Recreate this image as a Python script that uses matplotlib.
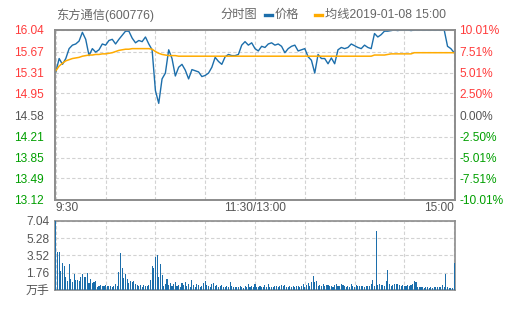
import numpy as np
import matplotlib
matplotlib.use('Agg')
import matplotlib.pyplot as plt
from matplotlib.lines import Line2D

plt.rcParams['font.family'] = ['Liberation Sans', 'Noto Sans CJK SC']

# stock + header
stock_name = '东方通信(600776)'
chart_kind = '分时图'
legend_price = '价格'
legend_avg = '均线2019-01-08 15:00'
prev_close = 14.58

# price every 2 minutes from 9:30 (0) to 15:00 (240)
price = [
    15.32, 15.55, 15.45, 15.55, 15.72, 15.78, 15.80, 15.85, 16.00, 15.88,
    15.60, 15.72, 15.66, 15.70, 15.80, 15.78, 15.86, 15.88, 15.80, 15.88,
    15.95, 16.02, 16.02, 15.90, 15.82, 15.86, 15.84, 15.92, 15.80, 15.70,
    15.00, 14.78, 15.20, 15.30, 15.70, 15.55, 15.25, 15.40, 15.45, 15.35,
    15.20, 15.36, 15.34, 15.32, 15.24, 15.26, 15.30, 15.40, 15.57, 15.50,
    15.45, 15.58, 15.62, 15.60, 15.60, 15.62, 15.78, 15.84, 15.78, 15.82,
    15.72, 15.68, 15.76, 15.74, 15.80, 15.82, 15.78, 15.80, 15.76, 15.65,
    15.72, 15.76, 15.78, 15.68, 15.70, 15.72, 15.58, 15.52, 15.30, 15.62,
    15.55, 15.55, 15.46, 15.56, 15.46, 15.70, 15.74, 15.72, 15.74, 15.80,
    15.77, 15.74, 15.72, 15.78, 15.74, 15.72, 15.98, 15.92, 15.96, 16.02,
    16.02, 16.03, 16.04, 16.03, 16.04, 16.04, 16.04, 16.03, 16.04, 16.04,
    16.04, 16.04, 16.04, 16.04, 16.04, 16.04, 16.04, 16.04, 15.76, 15.72,
    15.65,
]

avg_price = [
    15.34, 15.42, 15.47, 15.51, 15.53, 15.55, 15.56, 15.57, 15.59, 15.60,
    15.61, 15.61, 15.62, 15.62, 15.63, 15.63, 15.64, 15.65, 15.67, 15.69,
    15.70, 15.71, 15.71, 15.72, 15.72, 15.72, 15.72, 15.72, 15.72, 15.71,
    15.67, 15.64, 15.62, 15.61, 15.60, 15.60, 15.60, 15.59, 15.59, 15.59,
    15.59, 15.59, 15.59, 15.59, 15.59, 15.59, 15.59, 15.59, 15.59, 15.59,
    15.59, 15.59, 15.59, 15.59, 15.59, 15.59, 15.59, 15.59, 15.59, 15.59,
    15.59, 15.59, 15.59, 15.59, 15.59, 15.59, 15.59, 15.59, 15.59, 15.59,
    15.59, 15.59, 15.59, 15.59, 15.59, 15.59, 15.59, 15.59, 15.59, 15.59,
    15.59, 15.59, 15.59, 15.59, 15.59, 15.59, 15.59, 15.59, 15.59, 15.59,
    15.59, 15.59, 15.59, 15.59, 15.59, 15.59, 15.61, 15.61, 15.61, 15.61,
    15.62, 15.63, 15.63, 15.63, 15.63, 15.63, 15.63, 15.63, 15.65, 15.65,
    15.65, 15.65, 15.65, 15.65, 15.65, 15.65, 15.65, 15.65, 15.65, 15.65,
    15.65,
]

# volume per minute, 万手
volume = [
    7.04, 3.9, 3.9, 1.9, 2.7, 2.4, 1.3, 0.95, 2.6, 1.1,
    0.8, 1.65, 1.0, 1.0, 0.9, 1.3, 1.6, 1.3, 1.3, 1.7,
    0.7, 1.1, 0.7, 0.8, 0.9, 0.35, 0.45, 0.5, 0.4, 0.45,
    0.5, 0.4, 0.45, 0.4, 0.35, 0.45, 0.6, 0.4, 1.8, 3.8,
    2.2, 1.2, 1.6, 1.1, 0.7, 0.9, 0.8, 0.9, 0.6, 0.5,
    0.45, 0.5, 0.35, 0.55, 0.45, 0.4, 0.5, 1.0, 2.4, 2.2,
    3.4, 3.6, 1.3, 2.6, 1.5, 0.4, 0.6, 1.1, 0.5, 0.7,
    0.4, 0.6, 0.8, 0.45, 0.55, 0.3, 0.7, 0.5, 0.8, 0.45,
    0.6, 0.3, 1.0, 0.5, 0.35, 0.6, 0.5, 0.3, 0.45, 0.7,
    0.9, 0.55, 0.4, 0.3, 0.6, 0.75, 0.4, 0.5, 0.35, 0.4,
    0.55, 0.3, 0.35, 0.4, 0.35, 0.8, 0.45, 0.35, 0.3, 0.3,
    0.35, 0.45, 0.3, 0.25, 0.4, 0.35, 0.6, 0.3, 0.4, 0.3,
    0.6, 0.35, 0.3, 0.4, 0.3, 0.35, 0.55, 0.3, 0.6, 0.3,
    0.35, 0.3, 0.4, 0.45, 0.3, 0.4, 0.5, 0.45, 0.55, 0.3,
    0.35, 0.4, 0.3, 0.4, 0.35, 0.4, 0.45, 0.3, 0.4, 0.6,
    0.3, 0.5, 0.7, 0.4, 0.8, 1.4, 0.8, 0.9, 0.4, 0.55,
    0.45, 0.6, 0.4, 0.5, 0.55, 0.4, 0.45, 0.35, 0.55, 0.65,
    0.4, 0.45, 0.6, 0.55, 0.4, 0.35, 0.4, 0.3, 0.6, 0.45,
    0.35, 0.55, 0.4, 0.4, 0.45, 0.4, 0.35, 0.4, 0.45, 0.4,
    0.6, 1.0, 0.4, 6.0, 0.5, 0.6, 0.55, 0.5, 0.4, 0.9,
    2.0, 0.6, 0.45, 0.5, 0.6, 0.65, 0.6, 0.5, 0.45, 0.55,
    0.4, 0.45, 0.5, 0.45, 0.55, 0.6, 0.9, 0.8, 0.35, 0.3,
    0.35, 0.3, 0.25, 0.3, 0.3, 0.25, 0.3, 0.25, 0.3, 0.3,
    0.35, 0.3, 0.3, 0.5, 0.35, 1.6, 0.35, 0.2, 0.2, 0.2,
    2.7,
]

price_ticks = [13.12, 13.49, 13.85, 14.21, 14.58, 14.95, 15.31, 15.67, 16.04]
price_labels = ['13.12', '13.49', '13.85', '14.21', '14.58', '14.95', '15.31', '15.67', '16.04']
pct_labels = ['-10.01%', '-7.51%', '-5.01%', '-2.50%', '0.00%', '2.50%', '5.01%', '7.51%', '10.01%']
vol_ticks = [0, 1.76, 3.52, 5.28, 7.04]
vol_labels = ['万手', '1.76', '3.52', '5.28', '7.04']
grid_minutes = [0, 30, 60, 90, 120, 150, 180, 210, 240]
time_labels = ['9:30', '11:30/13:00', '15:00']

BLUE = '#1c6eab'
ORANGE = '#ffab00'
RED = '#ff3b3b'
GREEN = '#009f00'
GRAY = '#555555'
SPINE = '#8c8c8c'
GRID = '#d2d2d2'
FS = 8.6

W, H = 505, 310
fig = plt.figure(figsize=(W / 100, H / 100), dpi=100)
ax = fig.add_axes([55 / W, 1 - 200 / H, 400 / W, 170 / H])
axv = fig.add_axes([55 / W, 1 - 290 / H, 400 / W, 69.3 / H])


def color_for(p):
    if p > prev_close + 1e-6:
        return RED
    if p < prev_close - 1e-6:
        return GREEN
    return GRAY


def style(a):
    for s in a.spines.values():
        s.set_color(SPINE)
        s.set_linewidth(1.2)
    a.set_xlim(-0.5, 240.5)
    a.set_xticks(grid_minutes)
    a.set_xticklabels([])
    a.tick_params(axis='both', length=0)
    a.grid(True, color=GRID, ls=(0, (3, 2)), lw=0.8)
    a.set_axisbelow(True)


minutes = np.arange(len(price)) * 2
ax.plot(minutes, price, color=BLUE, lw=1.0, zorder=3)
ax.plot(minutes, avg_price, color=ORANGE, lw=1.1, zorder=3)
style(ax)
ax.set_ylim(price_ticks[0], price_ticks[-1])
ax.set_yticks(price_ticks)
ax.set_yticklabels(price_labels, fontsize=FS)
ax.tick_params(axis='y', pad=8)
for lbl, p in zip(ax.get_yticklabels(), price_ticks):
    lbl.set_color(color_for(p))

axr = ax.twinx()
axr.set_ylim(price_ticks[0], price_ticks[-1])
axr.set_yticks(price_ticks)
axr.set_yticklabels(pct_labels, fontsize=FS)
axr.tick_params(axis='y', length=0, pad=3)
for s in axr.spines.values():
    s.set_color(SPINE)
    s.set_linewidth(1.2)
for lbl, p in zip(axr.get_yticklabels(), price_ticks):
    lbl.set_color(color_for(p))

for m, txt, ha in zip([0, 120, 240], time_labels, ['left', 'center', 'right']):
    ax.annotate(txt, xy=(m, 0), xycoords=('data', 'axes fraction'),
                xytext=(0, -1.5), textcoords='offset points',
                ha=ha, va='top', fontsize=FS, color=GRAY)

axv.bar(np.arange(len(volume)), volume, width=0.65, color=BLUE,
        antialiased=False, zorder=3)
style(axv)
axv.set_ylim(vol_ticks[0], vol_ticks[-1])
axv.set_yticks(vol_ticks)
axv.set_yticklabels(vol_labels, fontsize=FS, color=GRAY)
axv.tick_params(axis='y', pad=4)

# header row
ty = 1 - 15 / H
fig.text(56 / W, ty, stock_name, ha='left', va='center', fontsize=8.8, color='#666666')
fig.text(220 / W, ty, chart_kind, ha='left', va='center', fontsize=8.8, color='#666666')
fig.add_artist(Line2D([265 / W, 272 / W], [ty, ty], color=BLUE, lw=2.4))
fig.text(275 / W, ty, legend_price, ha='left', va='center', fontsize=8.8, color='#666666')
fig.add_artist(Line2D([315 / W, 322 / W], [ty, ty], color=ORANGE, lw=2.4))
fig.text(325 / W, ty, legend_avg, ha='left', va='center', fontsize=8.8, color='#666666')

fig.savefig('out.png', dpi=100)
